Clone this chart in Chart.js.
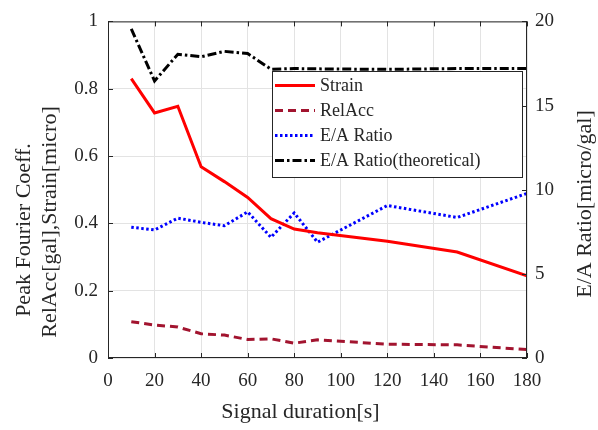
<!DOCTYPE html>
<html>
<head>
<meta charset="utf-8">
<script src="https://cdn.jsdelivr.net/npm/chart.js@4.4.1/dist/chart.umd.min.js"></script>
<style>
html, body { margin: 0; padding: 0; background: #fff; }
</style>
</head>
<body>
<canvas id="chart" width="598" height="430"></canvas>
<script>
// values
const durations = [10, 20, 30, 40, 50, 60, 70, 80, 90, 120, 150, 180];
const strain    = [0.83, 0.728, 0.748, 0.568, 0.524, 0.477, 0.414, 0.383, 0.372, 0.347, 0.315, 0.244];
const relAcc    = [0.108, 0.098, 0.092, 0.072, 0.068, 0.055, 0.057, 0.044, 0.054, 0.041, 0.039, 0.025];
const eaRatio   = [7.77, 7.61, 8.31, 8.06, 7.86, 8.68, 7.17, 8.62, 6.88, 9.06, 8.35, 9.78];
const eaTheory  = [19.55, 16.46, 18.05, 17.9, 18.22, 18.09, 17.16, 17.2, 17.18, 17.15, 17.2, 17.2];

const leftTicks  = [0, 0.2, 0.4, 0.6, 0.8, 1];
const rightTicks = [0, 5, 10, 15, 20];
const xTicks     = [0, 20, 40, 60, 80, 100, 120, 140, 160, 180];

const seriesNames = ['Strain', 'RelAcc', 'E/A Ratio', 'E/A Ratio(theoretical)'];

const FONT = '"Liberation Serif", "DejaVu Serif", serif';
const INK = '#262626';

function pts(ys) {
    return durations.map((x, i) => ({ x: x, y: ys[i] }));
}

// box, inward ticks and axis titles (MATLAB look)
const framePlugin = {
    id: 'frame',
    afterDatasetsDraw(chart) {
        const { ctx, chartArea: a, scales } = chart;
        ctx.save();
        ctx.strokeStyle = INK;
        ctx.lineWidth = 1;
        const tl = 5;
        ctx.beginPath();
        xTicks.forEach(v => {
            const px = Math.round(scales.x.getPixelForValue(v)) + 0.5;
            ctx.moveTo(px, a.bottom); ctx.lineTo(px, a.bottom - tl);
            ctx.moveTo(px, a.top); ctx.lineTo(px, a.top + tl);
        });
        leftTicks.forEach(v => {
            const py = Math.round(scales.y.getPixelForValue(v)) + 0.5;
            ctx.moveTo(a.left, py); ctx.lineTo(a.left + tl, py);
        });
        rightTicks.forEach(v => {
            const py = Math.round(scales.y1.getPixelForValue(v)) + 0.5;
            ctx.moveTo(a.right, py); ctx.lineTo(a.right - tl, py);
        });
        ctx.stroke();
        ctx.strokeRect(a.left + 0.5, a.top + 0.5, a.width - 1, a.height - 1);
        ctx.restore();
    },
    afterDraw(chart) {
        const { ctx, chartArea: a } = chart;
        ctx.save();
        ctx.fillStyle = INK;
        ctx.font = '22px ' + FONT;
        ctx.textBaseline = 'middle';
        ctx.textAlign = 'center';
        ctx.fillText('Signal duration[s]', (a.left + a.right) / 2 - 17, 412);

        [['Peak Fourier Coeff.', 24, 230], ['RelAcc[gal],Strain[micro]', 50, 222], ['E/A Ratio[micro/gal]', 585, 204]]
            .forEach(([t, x, y]) => {
                ctx.save();
                ctx.translate(x, y);
                ctx.rotate(-Math.PI / 2);
                ctx.fillText(t, 0, 0);
                ctx.restore();
            });
        ctx.restore();
    }
};

// legend box inside the plot, top right
const legendPlugin = {
    id: 'boxLegend',
    afterDraw(chart) {
        const { ctx } = chart;
        const bx = 272, by = 71, bw = 250, bh = 106, rowH = 25;
        ctx.save();
        ctx.fillStyle = '#fff';
        ctx.fillRect(bx, by, bw, bh);
        ctx.strokeStyle = INK;
        ctx.lineWidth = 1;
        ctx.strokeRect(bx + 0.5, by + 0.5, bw, bh);
        ctx.font = '18px ' + FONT;
        ctx.textBaseline = 'middle';
        ctx.textAlign = 'left';
        chart.data.datasets.forEach((ds, i) => {
            const y = by + 14.5 + i * rowH;
            ctx.strokeStyle = ds.borderColor;
            ctx.lineWidth = ds.borderWidth;
            ctx.setLineDash(ds.borderDash || []);
            ctx.beginPath();
            ctx.moveTo(bx + 3, y);
            ctx.lineTo(bx + 43, y);
            ctx.stroke();
            ctx.setLineDash([]);
            ctx.fillStyle = INK;
            ctx.fillText(ds.label, bx + 48, y + 1);
        });
        ctx.restore();
    }
};

new Chart(document.getElementById('chart'), {
    type: 'line',
    data: {
        datasets: [
            { label: seriesNames[0], data: pts(strain), yAxisID: 'y', borderColor: '#ff0000', borderWidth: 3 },
            { label: seriesNames[1], data: pts(relAcc), yAxisID: 'y', borderColor: '#a2142f', borderWidth: 3, borderDash: [8, 5] },
            { label: seriesNames[2], data: pts(eaRatio), yAxisID: 'y1', borderColor: '#0000ff', borderWidth: 3, borderDash: [2.5, 2.5] },
            { label: seriesNames[3], data: pts(eaTheory), yAxisID: 'y1', borderColor: '#000000', borderWidth: 3, borderDash: [9, 3, 2.5, 3] }
        ]
    },
    options: {
        responsive: false,
        animation: false,
        layout: { padding: { top: 13, left: 0, right: 0, bottom: 0 } },
        elements: { point: { radius: 0 }, line: { tension: 0 } },
        plugins: { legend: { display: false }, tooltip: { enabled: false } },
        scales: {
            x: {
                type: 'linear',
                min: 0, max: 180,
                afterBuildTicks: s => { s.ticks = xTicks.map(v => ({ value: v })); },
                afterFit: s => { s.height = 72; },
                grid: { color: '#e3e3e3', drawTicks: false },
                border: { display: false },
                ticks: { color: INK, padding: 12, maxRotation: 0, font: { family: FONT, size: 19 } }
            },
            y: {
                position: 'left',
                min: 0, max: 1,
                afterBuildTicks: s => { s.ticks = leftTicks.map(v => ({ value: v })); },
                afterFit: s => { s.width = 108; },
                grid: { color: '#e3e3e3', drawTicks: false },
                border: { display: false },
                ticks: { color: INK, padding: 10, font: { family: FONT, size: 19 }, callback: v => String(v) }
            },
            y1: {
                position: 'right',
                min: 0, max: 20,
                afterBuildTicks: s => { s.ticks = rightTicks.map(v => ({ value: v })); },
                afterFit: s => { s.width = 71; },
                grid: { display: false, drawTicks: false },
                border: { display: false },
                ticks: { color: INK, padding: 8, font: { family: FONT, size: 19 } }
            }
        }
    },
    plugins: [framePlugin, legendPlugin]
});
</script>
</body>
</html>
